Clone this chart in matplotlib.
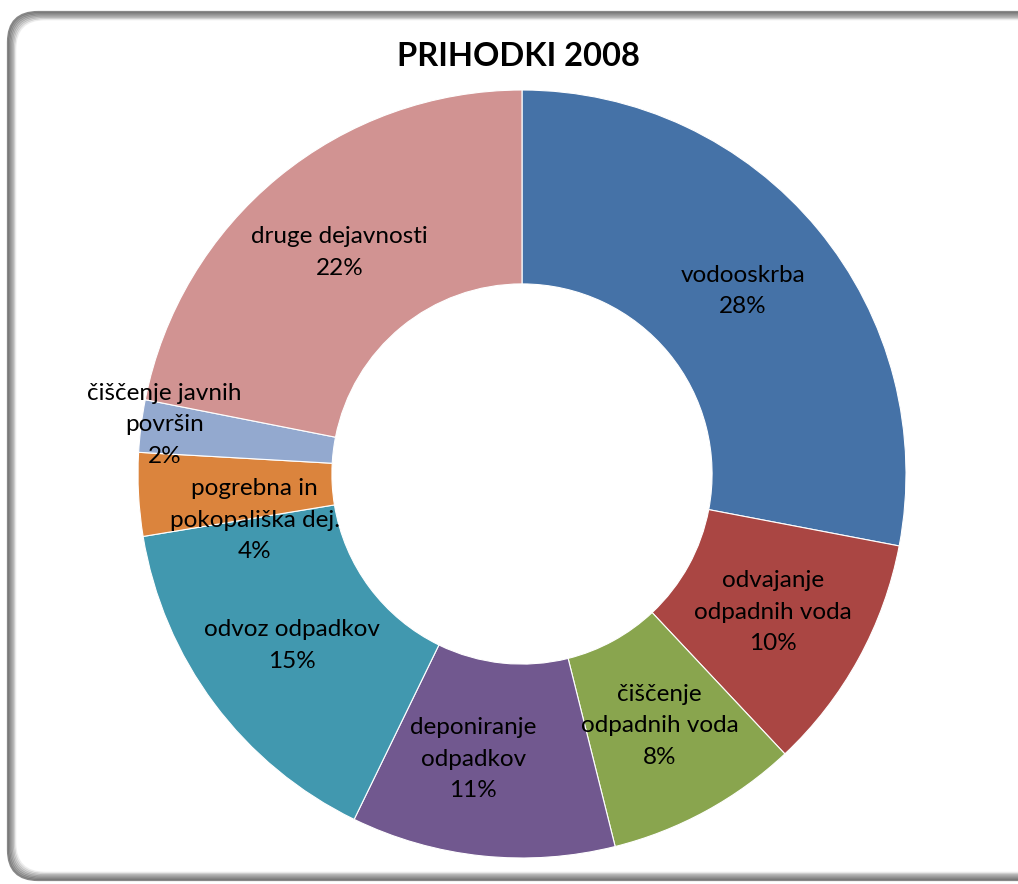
import matplotlib.pyplot as plt
from matplotlib.patches import FancyBboxPatch
import numpy as np

plt.rcParams['font.family'] = ['Lato', 'DejaVu Sans']

# data
categories = ["vodooskrba", "odvajanje\nodpadnih voda", "čiščenje\nodpadnih voda",
              "deponiranje\nodpadkov", "odvoz odpadkov", "pogrebna in\npokopališka dej.",
              "čiščenje javnih\npovršin", "druge dejavnosti"]
shares = [28.0, 10.0, 8.1, 11.1, 15.2, 3.5, 2.2, 21.9]
pct_labels = ["28%", "10%", "8%", "11%", "15%", "4%", "2%", "22%"]
colors = ["#4572A7", "#AA4643", "#89A54E", "#71588F", "#4198AF", "#DB843D", "#93A9CF", "#D19392"]

W, H = 1018, 884
fig = plt.figure(figsize=(W / 100, H / 100), dpi=100)

# background frame (pixel coordinates)
bg = fig.add_axes([0, 0, 1, 1])
bg.set_xlim(0, W)
bg.set_ylim(H, 0)
bg.axis("off")
for k in range(7):
    box = FancyBboxPatch((8 + 30 + k * 1.2, 12 + 30 + k * 1.2), 1100, 868 - 60 - k * 2.4,
                         boxstyle="round,pad=30", fc="none",
                         ec=(0.45, 0.45, 0.45), lw=1.6, alpha=0.85 - k * 0.12)
    bg.add_patch(box)

fig.text(518 / W, 1 - 56 / H, "PRIHODKI 2008", ha="center", va="center",
         fontsize=23.5, fontweight="bold")

ax = fig.add_axes([138 / W, 26 / H, 768 / W, 768 / H])
wedges, _ = ax.pie(shares, colors=colors, startangle=90, counterclock=False,
                   radius=1.0, wedgeprops=dict(width=0.505, edgecolor="white", linewidth=0.8))
ax.set_xlim(-1, 1)
ax.set_ylim(-1, 1)
ax.set_aspect("equal")

nudge = {5: (0.05, -0.08), 6: (-0.19, 0.035), 3: (-0.05, 0.0)}
for i, w in enumerate(wedges):
    mid = np.deg2rad((w.theta1 + w.theta2) / 2)
    x = 0.747 * np.cos(mid)
    y = 0.747 * np.sin(mid)
    dx, dy = nudge.get(i, (0, 0))
    ax.text(x + dx, y + dy, categories[i] + "\n" + pct_labels[i], ha="center", va="center",
            fontsize=17.5, linespacing=1.62, color="black")

fig.savefig("out.png", dpi=100)
